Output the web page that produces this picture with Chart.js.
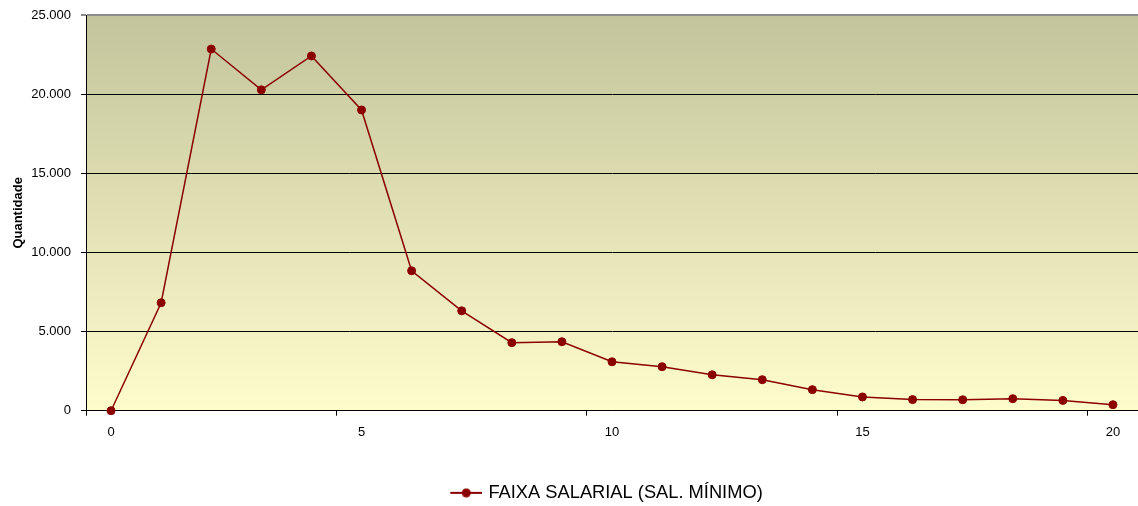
<!DOCTYPE html>
<html>
<head>
<meta charset="utf-8">
<script src="https://cdn.jsdelivr.net/npm/chart.js@4"></script>
<style>
html,body{margin:0;padding:0;background:#fff;}
#wrap{width:1138px;height:506px;position:relative;}
</style>
</head>
<body>
<div id="wrap"><canvas id="c" width="1138" height="506"></canvas></div>
<script>
const categories = ["0","1","2","3","4","5","6","7","8","9","10","11","12","13","14","15","16","17","18","19","20"];
const seriesValues = [0, 6820, 22850, 20270, 22410, 19000, 8840, 6310, 4300, 4360, 3090, 2780, 2270, 1960, 1330, 870, 700, 690, 760, 650, 380];
const yTicks = [0, 5000, 10000, 15000, 20000, 25000];
const seriesName = "FAIXA SALARIAL (SAL. MÍNIMO)";
const yTitle = "Quantidade";

const RED = '#8B0000';
const FONT = "'Liberation Sans', Arial, sans-serif";

// legend marker: line with dot (transparent lead-in on the left)
const MK_PAD = 80, MK_W = 32;
const mk = document.createElement('canvas');
mk.width = MK_PAD + MK_W; mk.height = 10;
(function(){
  const g = mk.getContext('2d');
  g.strokeStyle = RED; g.lineWidth = 2;
  g.beginPath(); g.moveTo(MK_PAD,5); g.lineTo(MK_PAD+MK_W,5); g.stroke();
  g.fillStyle = RED; g.beginPath(); g.arc(MK_PAD+MK_W/2,5,4.5,0,Math.PI*2); g.fill();
})();

const bgPlugin = {
  id: 'bg',
  afterLayout(chart) {
    const lg = chart.legend;
    if (lg) { lg.top += 6; lg.bottom += 6; lg.left -= 1; lg.right -= 1; }
  },
  beforeDraw(chart) {
    const {ctx, chartArea: a} = chart;
    const grd = ctx.createLinearGradient(0, a.top, 0, a.bottom);
    grd.addColorStop(0, 'rgb(195,196,156)');
    grd.addColorStop(1, 'rgb(255,252,204)');
    ctx.save();
    ctx.fillStyle = grd;
    ctx.fillRect(a.left, a.top, a.right - a.left, a.bottom - a.top);
    ctx.restore();
  }
};

function fmt(v){ return v.toString().replace(/\B(?=(\d{3})+(?!\d))/g, '.'); }

new Chart(document.getElementById('c'), {
  type: 'line',
  data: {
    labels: categories,
    datasets: [{
      label: seriesName,
      data: seriesValues,
      borderColor: RED,
      backgroundColor: RED,
      borderWidth: 1.5,
      pointRadius: 4,
      pointHoverRadius: 4,
      pointBackgroundColor: RED,
      pointBorderColor: RED,
      pointBorderWidth: 1,
      tension: 0,
      clip: false,
      pointStyle: 'circle'
    }]
  },
  options: {
    responsive: false,
    animation: false,
    events: [],
    layout: { autoPadding: false, padding: { left: 0, right: 0, top: 15, bottom: 0 } },
    plugins: {
      tooltip: { enabled: false },
      legend: {
        position: 'bottom',
        labels: {
          color: '#000',
          font: { family: FONT, size: 18.3 },
          usePointStyle: true,
          pointStyleWidth: MK_PAD + MK_W - 6,
          boxHeight: 10,
          padding: 3,
          generateLabels(chart) {
            return [{
              text: seriesName,
              pointStyle: mk,
              fillStyle: RED,
              strokeStyle: RED,
              lineWidth: 0,
              hidden: false,
              datasetIndex: 0
            }];
          }
        }
      }
    },
    scales: {
      x: {
        type: 'category',
        offset: true,
        border: { display: true, color: '#000', width: 1 },
        grid: {
          offset: true,
          drawOnChartArea: false,
          drawTicks: true,
          tickLength: 5,
          color: (ctx) => (ctx.index % 5 === 0 ? '#000' : 'rgba(0,0,0,0)')
        },
        ticks: {
          autoSkip: false,
          maxRotation: 0,
          color: '#000',
          font: { family: FONT, size: 13 },
          padding: 9,
          callback: function(val, idx) { return idx % 5 === 0 ? this.getLabelForValue(val) : ''; }
        },
        afterFit(s) { s.height = 64; s.paddingLeft = 0; s.paddingRight = 0; }
      },
      y: {
        min: 0, max: 25000,
        border: { display: true, color: '#000', width: 1 },
        grid: {
          color: (ctx) => (ctx.tick && ctx.tick.value === 25000 ? '#8c8c8c' : '#000'),
          lineWidth: (ctx) => (ctx.tick && ctx.tick.value === 25000 ? 2 : 1),
          drawTicks: true,
          tickLength: 5
        },
        afterBuildTicks(s) { s.ticks = yTicks.map(v => ({ value: v })); },
        ticks: {
          color: '#000',
          font: { family: FONT, size: 13 },
          padding: 10,
          callback: (v) => fmt(v)
        },
        title: {
          display: true,
          text: yTitle,
          color: '#000',
          font: { family: FONT, size: 13, weight: 'bold' },
          padding: { top: 11, bottom: 0 }
        },
        afterFit(s) { s.width = 86; s.paddingTop = 0; s.paddingBottom = 0; }
      }
    }
  },
  plugins: [bgPlugin]
});
</script>
</body>
</html>
